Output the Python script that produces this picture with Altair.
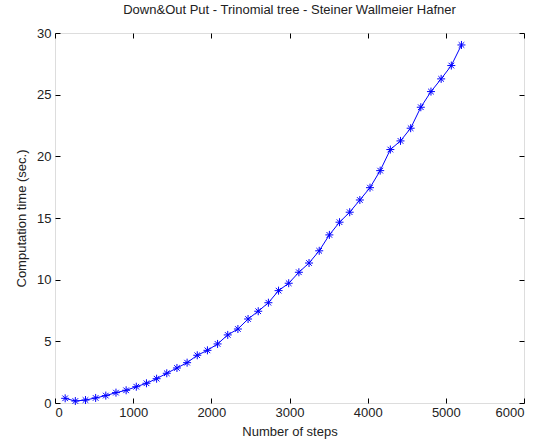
import altair as alt
import pandas as pd

steps = [130 * k for k in range(1, 41)]
times = [0.38, 0.16, 0.24, 0.41, 0.60, 0.84, 1.03, 1.32, 1.60, 1.97,
         2.41, 2.84, 3.27, 3.87, 4.27, 4.79, 5.52, 6.00, 6.81, 7.44,
         8.13, 9.11, 9.71, 10.60, 11.35, 12.34, 13.63, 14.66, 15.47, 16.46,
         17.46, 18.84, 20.55, 21.25, 22.28, 23.98, 25.25, 26.28, 27.36, 29.03]
x_ticks = [0, 1000, 2000, 3000, 4000, 5000, 6000]
y_ticks = [0, 5, 10, 15, 20, 25, 30]

df = pd.DataFrame({"steps": steps, "time": times})

FONT = "Liberation Sans"
BLUE = "#0000ff"
ASTERISK = "M-1,0L1,0M0,-1L0,1M-0.7,-0.7L0.7,0.7M-0.7,0.7L0.7,-0.7"

xs = alt.Scale(domain=[0, 6000], nice=False)
ys = alt.Scale(domain=[0, 30], nice=False)

common = dict(domain=False, grid=False, tickSize=5, offset=-5, tickColor="black",
              tickWidth=1, labelFont=FONT, labelFontSize=13, labelColor="#222222",
              titleFont=FONT, titleFontSize=13, titleFontWeight="normal",
              titleColor="#222222", format="d")

bottom = alt.Axis(orient="bottom", values=x_ticks, labelPadding=3, title="Number of steps",
                  titlePadding=6, **common)
left = alt.Axis(orient="left", values=y_ticks, labelPadding=4,
                title="Computation time (sec.)", titlePadding=8, **common)
top = alt.Axis(orient="top", values=x_ticks, labels=False, title=None, **common)
right = alt.Axis(orient="right", values=y_ticks, labels=False, title=None, **common)

base = alt.Chart(df)
line = base.mark_line(color=BLUE, strokeWidth=1).encode(
    x=alt.X("steps:Q", scale=xs, axis=bottom),
    y=alt.Y("time:Q", scale=ys, axis=left),
)
pts = base.mark_point(shape=ASTERISK, size=64, filled=False, stroke=BLUE,
                      strokeWidth=1, opacity=1).encode(
    x=alt.X("steps:Q", scale=xs, axis=top),
    y=alt.Y("time:Q", scale=ys, axis=right),
)

chart = alt.layer(line, pts).resolve_axis(x="independent", y="independent").properties(
    width=469, height=370,
    title=alt.TitleParams("Down&Out Put - Trinomial tree - Steiner Wallmeier Hafner",
                          font=FONT, fontSize=13, fontWeight="normal", color="#222222",
                          anchor="middle", offset=10),
    autosize=alt.AutoSizeParams(type="none"),
    padding={"left": 55, "top": 33, "right": 15, "bottom": 40},
).configure_view(stroke="black", strokeWidth=1).configure(background="white")

chart.save("out.html", embed_options={"renderer": "svg", "actions": False})
